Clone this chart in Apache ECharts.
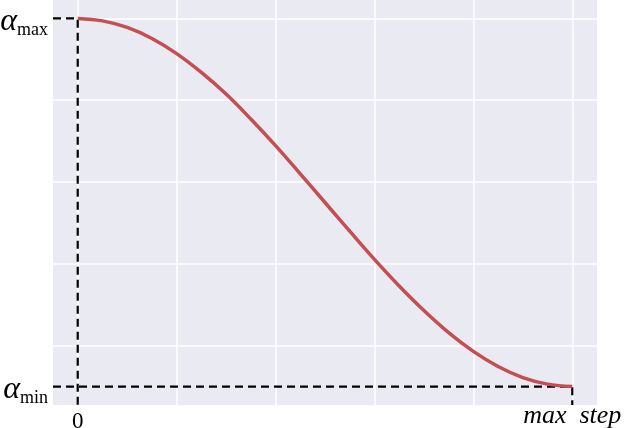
<!DOCTYPE html>
<html>
<head>
<meta charset="utf-8">
<script src="https://cdn.jsdelivr.net/npm/echarts@6/dist/echarts.min.js"></script>
<style>
  html, body { margin: 0; padding: 0; background: #fff; }
  #chart { width: 624px; height: 428px; }
</style>
</head>
<body>
<div id="chart"></div>
<script>
// step values (x) and learning-rate values
const steps = [0, 5, 10, 15, 20, 25, 30, 35, 40, 45, 50, 55, 60, 65, 70, 75, 80, 85, 90, 95, 100];
const alphas = [1.0, 0.994, 0.978, 0.951, 0.914, 0.868, 0.815, 0.754, 0.689, 0.620, 0.55,
                0.480, 0.411, 0.346, 0.286, 0.232, 0.186, 0.149, 0.122, 0.106, 0.1];

// grid ticks (no numbers shown) and the labelled ticks
const xGridTicks = [0, 20, 40, 60, 80, 100];
const yGridTicks = [0.2, 0.4, 0.6, 0.8, 1.0];
const xLabelTicks = [0, 100];
const xLabelTexts = ['0', 'max  step'];
const yLabelTicks = [0.1, 1.0];
const yLabelSubs = ['min', 'max'];

const xMin = -5, xMax = 105;
const yMin = 0.055, yMax = 1.045;

const stepStart = steps[0];
const stepEnd = steps[steps.length - 1];
const alphaMax = alphas[0];
const alphaMin = alphas[alphas.length - 1];

const chart = echarts.init(document.getElementById('chart'));

const serif = '"Liberation Serif", "DejaVu Serif", serif';
const dashStyle = { color: '#000', width: 2.2, type: [8, 5] };

chart.setOption({
  animation: false,
  backgroundColor: '#fff',
  grid: {
    left: 53, top: 0, width: 544, height: 405,
    outerBoundsMode: 'none', containLabel: false,
    show: true, backgroundColor: '#EAEAF2', borderWidth: 0
  },
  xAxis: {
    type: 'value', min: xMin, max: xMax,
    axisLine: { show: false },
    axisTick: { show: false, customValues: xGridTicks },
    splitLine: { show: true, lineStyle: { color: '#fff', width: 1.5 } },
    axisLabel: {
      customValues: xLabelTicks,
      margin: -2,
      hideOverlap: false,
      formatter: function (v) {
        const i = xLabelTicks.indexOf(v);
        return i === 0 ? '{n|' + xLabelTexts[i] + '}' : '{it|' + xLabelTexts[i] + '}';
      },
      rich: {
        n: { fontFamily: serif, fontSize: 23, color: '#000', padding: [7, 0, 0, 0] },
        it: { fontFamily: serif, fontSize: 26, fontStyle: 'italic', color: '#000' }
      }
    }
  },
  yAxis: {
    type: 'value', min: yMin, max: yMax,
    axisLine: { show: false },
    axisTick: { show: false, customValues: yGridTicks },
    splitLine: { show: true, lineStyle: { color: '#fff', width: 1.5 } },
    axisLabel: {
      customValues: yLabelTicks,
      margin: 5,
      formatter: function (v) {
        const i = yLabelTicks.indexOf(v);
        return '{a|α}{s|' + yLabelSubs[i] + '}';
      },
      rich: {
        a: { fontFamily: serif, fontSize: 32, fontStyle: 'italic', color: '#000', verticalAlign: 'bottom', padding: [6, 0, 0, 0] },
        s: { fontFamily: serif, fontSize: 18, color: '#000', verticalAlign: 'bottom', padding: [0, 0, -2, 0] }
      }
    }
  },
  series: [
    {
      type: 'line', z: 2,
      data: [[xMin, alphaMax], [stepStart, alphaMax], [stepStart, yMin]],
      showSymbol: false, lineStyle: dashStyle, silent: true
    },
    {
      type: 'line', z: 2,
      data: [[xMin, alphaMin], [stepEnd, alphaMin], [stepEnd, yMin]],
      showSymbol: false, lineStyle: dashStyle, silent: true
    },
    {
      type: 'line', z: 3,
      data: steps.map((s, i) => [s, alphas[i]]),
      smooth: 0.4,
      showSymbol: false,
      lineStyle: { color: '#C44E52', width: 3.5 }
    }
  ]
});
</script>
</body>
</html>
